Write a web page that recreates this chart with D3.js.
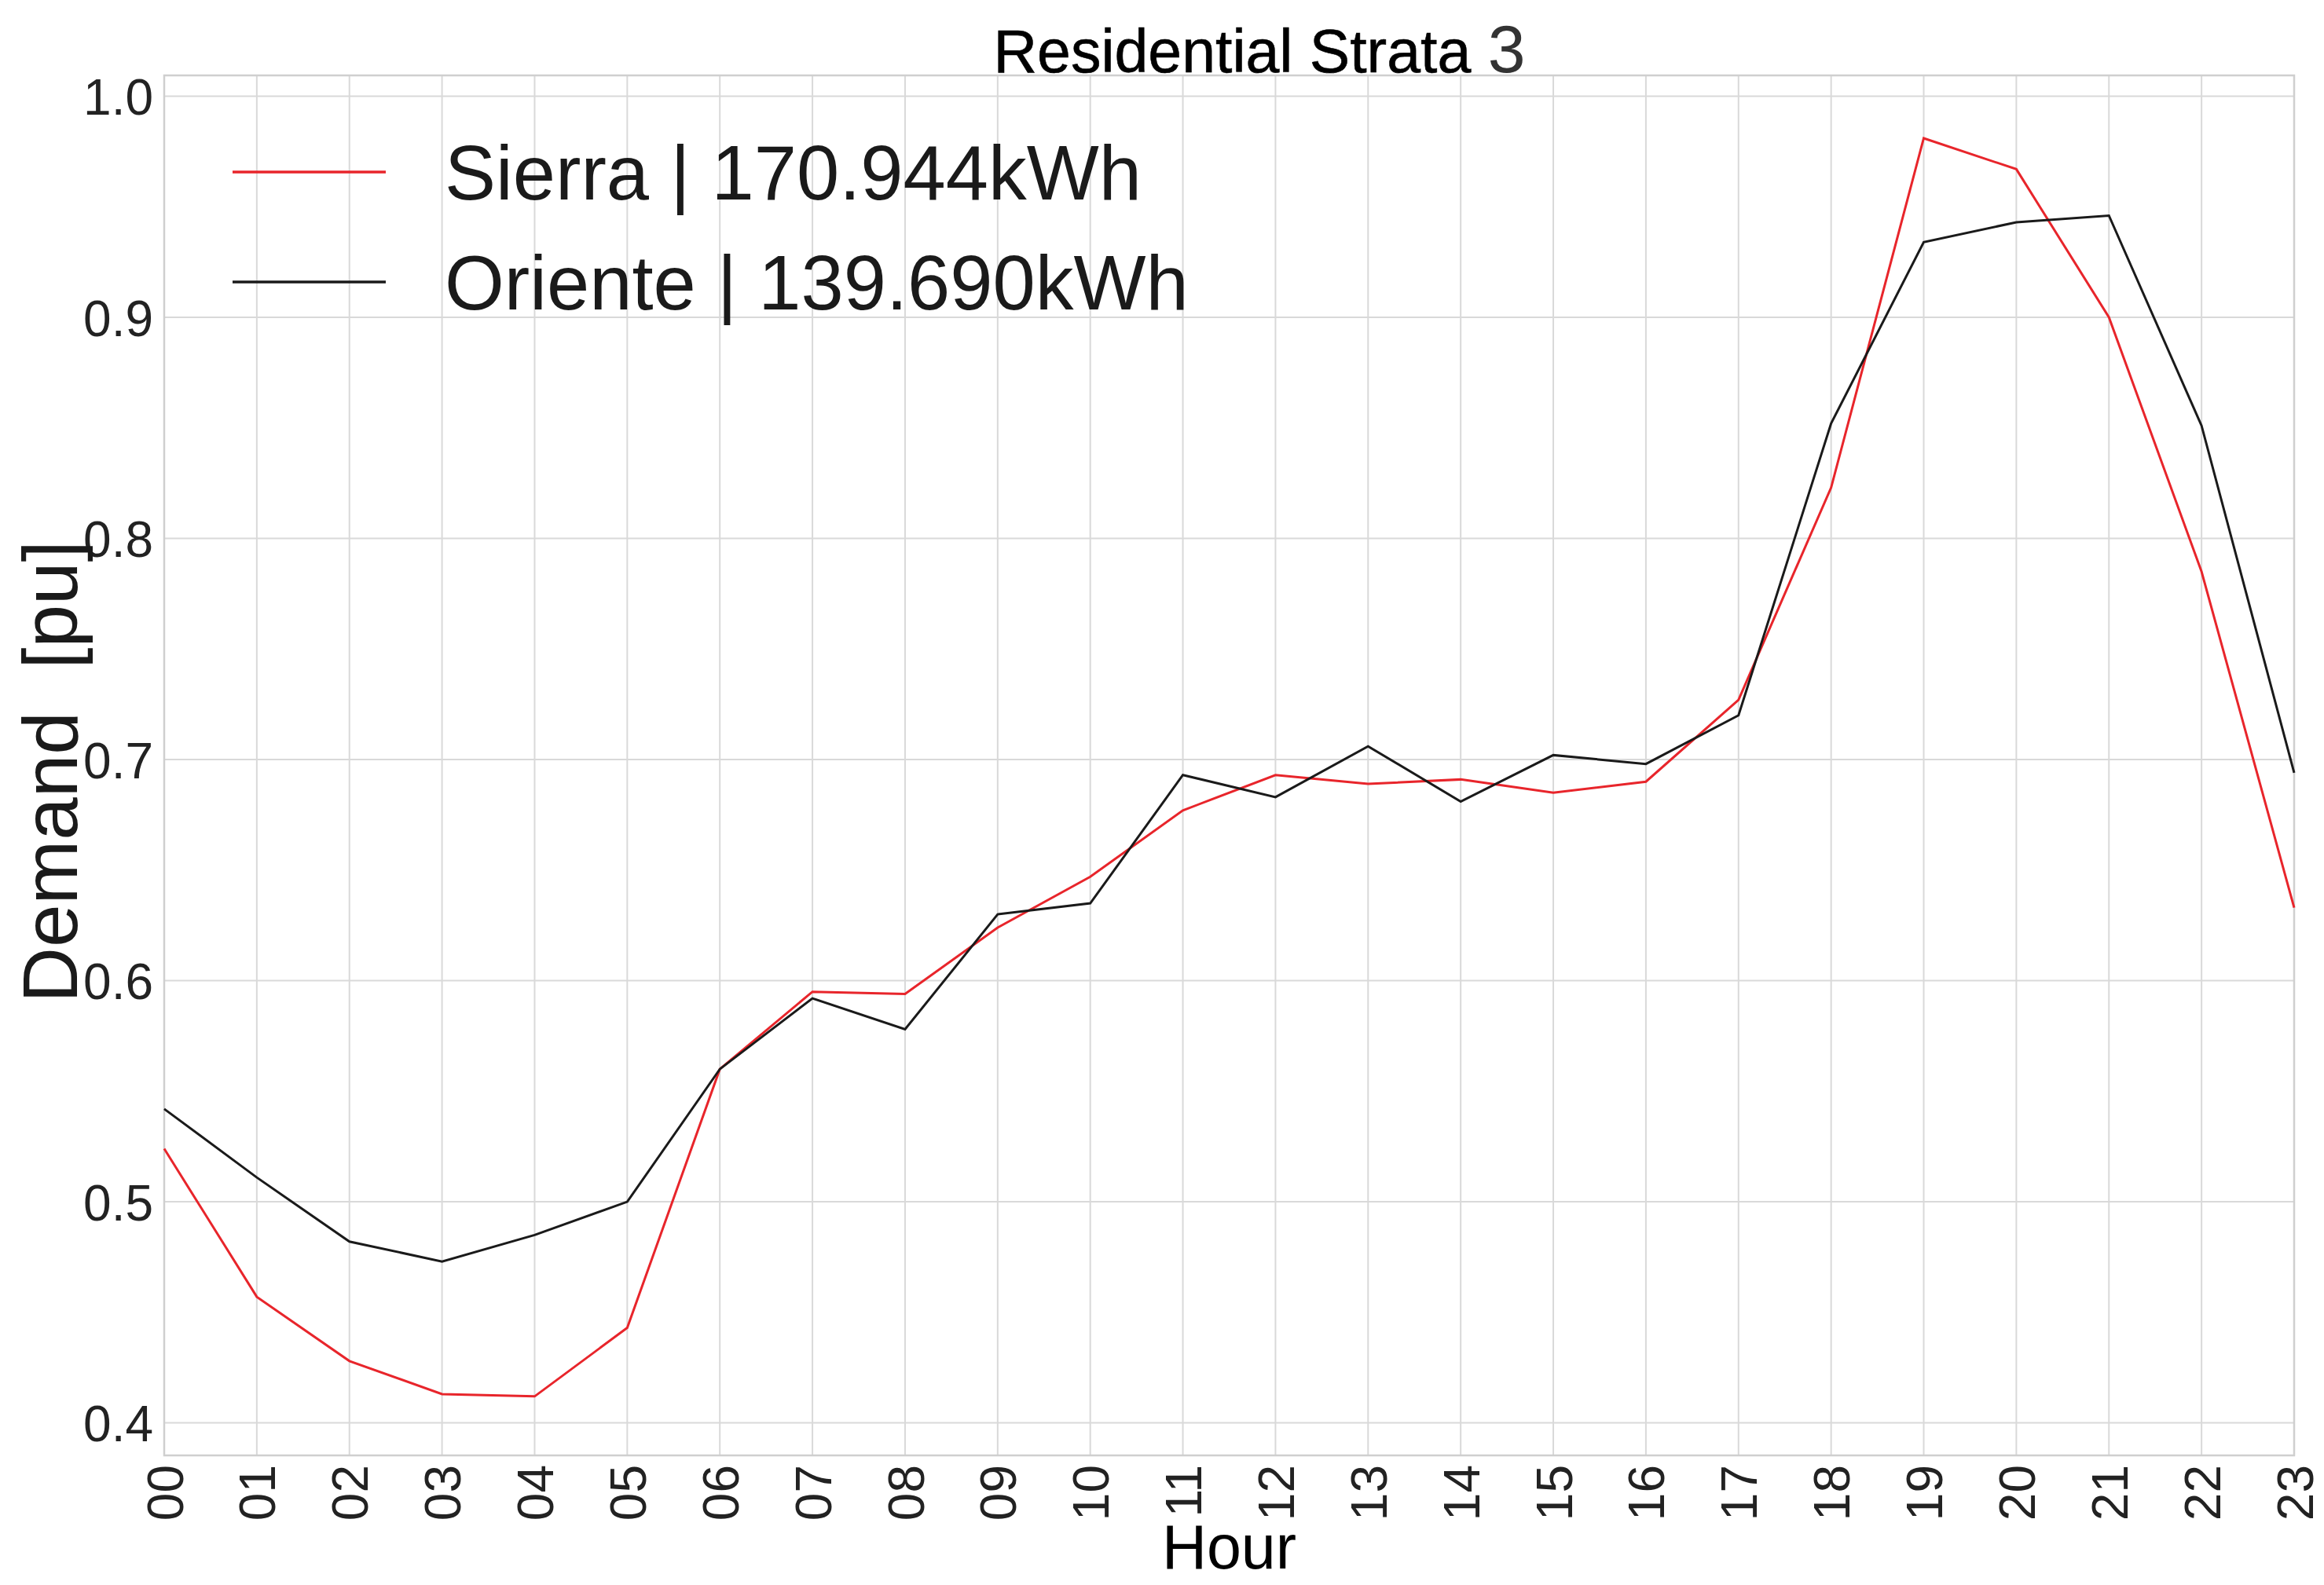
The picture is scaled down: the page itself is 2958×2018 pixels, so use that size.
<!DOCTYPE html>
<html>
<head>
<meta charset="utf-8">
<script src="https://cdn.jsdelivr.net/npm/d3@7"></script>
<style>
  html, body { margin: 0; padding: 0; background: #ffffff; }
  svg { display: block; }
  text { font-family: "Liberation Sans", Arial, sans-serif; }
</style>
</head>
<body>
<script>
const hours = ["00","01","02","03","04","05","06","07","08","09","10","11","12","13","14","15","16","17","18","19","20","21","22","23"];
const sierra = [0.524,0.457,0.428,0.413,0.412,0.443,0.560,0.595,0.594,0.624,0.647,0.677,0.693,0.689,0.691,0.685,0.690,0.727,0.823,0.981,0.967,0.900,0.785,0.633];
const oriente = [0.542,0.511,0.482,0.473,0.485,0.500,0.560,0.592,0.578,0.630,0.635,0.693,0.683,0.706,0.681,0.702,0.698,0.720,0.852,0.934,0.943,0.946,0.851,0.694];
const yTicks = [0.4,0.5,0.6,0.7,0.8,0.9,1.0];
const seriesNames = ["Sierra | 170.944kWh", "Oriente | 139.690kWh"];
const seriesColors = ["#e8252b", "#1a1a1a"];
const titleMain = "Residential Strata ";
const titleNum = "3";
const xLabel = "Hour";
const yLabel = "Demand  [pu]";

const W = 2958, H = 2018;
const margin = {left: 209, right: 38, top: 96, bottom: 165};
const x0 = margin.left, x1 = W - margin.right, y0 = margin.top, y1 = H - margin.bottom;

const svg = d3.select("body").append("svg").attr("width", W).attr("height", H);

const x = d3.scaleLinear().domain([0, hours.length - 1]).range([x0, x1]);
const y = d3.scaleLinear().domain([0.3853, 1.0094]).range([y1, y0]);

// gridlines
const grid = svg.append("g");
grid.selectAll("line.v").data(hours).enter().append("line")
  .attr("x1", (d,i) => x(i)).attr("x2", (d,i) => x(i))
  .attr("y1", y0).attr("y2", y1)
  .attr("stroke", "#d9d9d9").attr("stroke-width", 2);
grid.selectAll("line.h").data(yTicks).enter().append("line")
  .attr("x1", x0).attr("x2", x1)
  .attr("y1", d => y(d)).attr("y2", d => y(d))
  .attr("stroke", "#d9d9d9").attr("stroke-width", 2);

// frame
svg.append("rect").attr("x", x0).attr("y", y0).attr("width", x1 - x0).attr("height", y1 - y0)
  .attr("fill", "none").attr("stroke", "#cfcfcf").attr("stroke-width", 2.5);

// axes
const yAxis = svg.append("g").attr("transform", `translate(${x0},0)`)
  .call(d3.axisLeft(y).tickValues(yTicks).tickFormat(d3.format(".1f")).tickSize(0).tickPadding(14));
yAxis.select(".domain").remove();
yAxis.selectAll("text").attr("font-size", 64).attr("fill", "#222").attr("font-family", "Liberation Sans, Arial, sans-serif").attr("dy", "0.36em");

const xAxis = svg.append("g").attr("transform", `translate(0,${y1})`)
  .call(d3.axisBottom(x).tickValues(d3.range(hours.length)).tickFormat(i => hours[i]).tickSize(0).tickPadding(0));
xAxis.select(".domain").remove();
xAxis.selectAll("text")
  .attr("font-size", 64).attr("fill", "#222").attr("font-family", "Liberation Sans, Arial, sans-serif")
  .attr("text-anchor", "end")
  .attr("transform", "rotate(-90)")
  .attr("x", -12).attr("y", 0).attr("dy", "0.36em");

// lines
const line = d3.line().x((d,i) => x(i)).y(d => y(d));
[sierra, oriente].forEach((s, k) => {
  svg.append("path").datum(s).attr("d", line)
    .attr("fill", "none").attr("stroke", seriesColors[k]).attr("stroke-width", 3)
    .attr("stroke-linejoin", "miter");
});

// legend
const legendY = [219, 359];
const legend = svg.append("g");
seriesNames.forEach((name, k) => {
  legend.append("line").attr("x1", 296).attr("x2", 491).attr("y1", legendY[k]).attr("y2", legendY[k])
    .attr("stroke", seriesColors[k]).attr("stroke-width", 3.5);
  legend.append("text").attr("x", 566).attr("y", legendY[k]).attr("dy", "0.36em")
    .attr("font-size", 97.5).attr("fill", "#1a1a1a").text(name);
});

// title
const title = svg.append("text").attr("x", 1603).attr("y", 92).attr("text-anchor", "middle")
  .attr("font-size", 77).attr("fill", "#000").attr("stroke", "#000").attr("stroke-width", 0.6);
title.append("tspan").text(titleMain);
title.append("tspan").attr("font-size", 86).attr("fill", "#333").attr("stroke", "none").text(titleNum);

// axis labels
svg.append("text").attr("x", (x0 + x1) / 2).attr("y", 1997).attr("text-anchor", "middle")
  .attr("font-size", 79).attr("fill", "#000").text(xLabel);
svg.append("text").attr("transform", `translate(98,${(y0 + y1) / 2 + 8}) rotate(-90)`)
  .attr("text-anchor", "middle").attr("font-size", 98).attr("fill", "#1a1a1a")
  .style("white-space", "pre").text(yLabel);
</script>
</body>
</html>
